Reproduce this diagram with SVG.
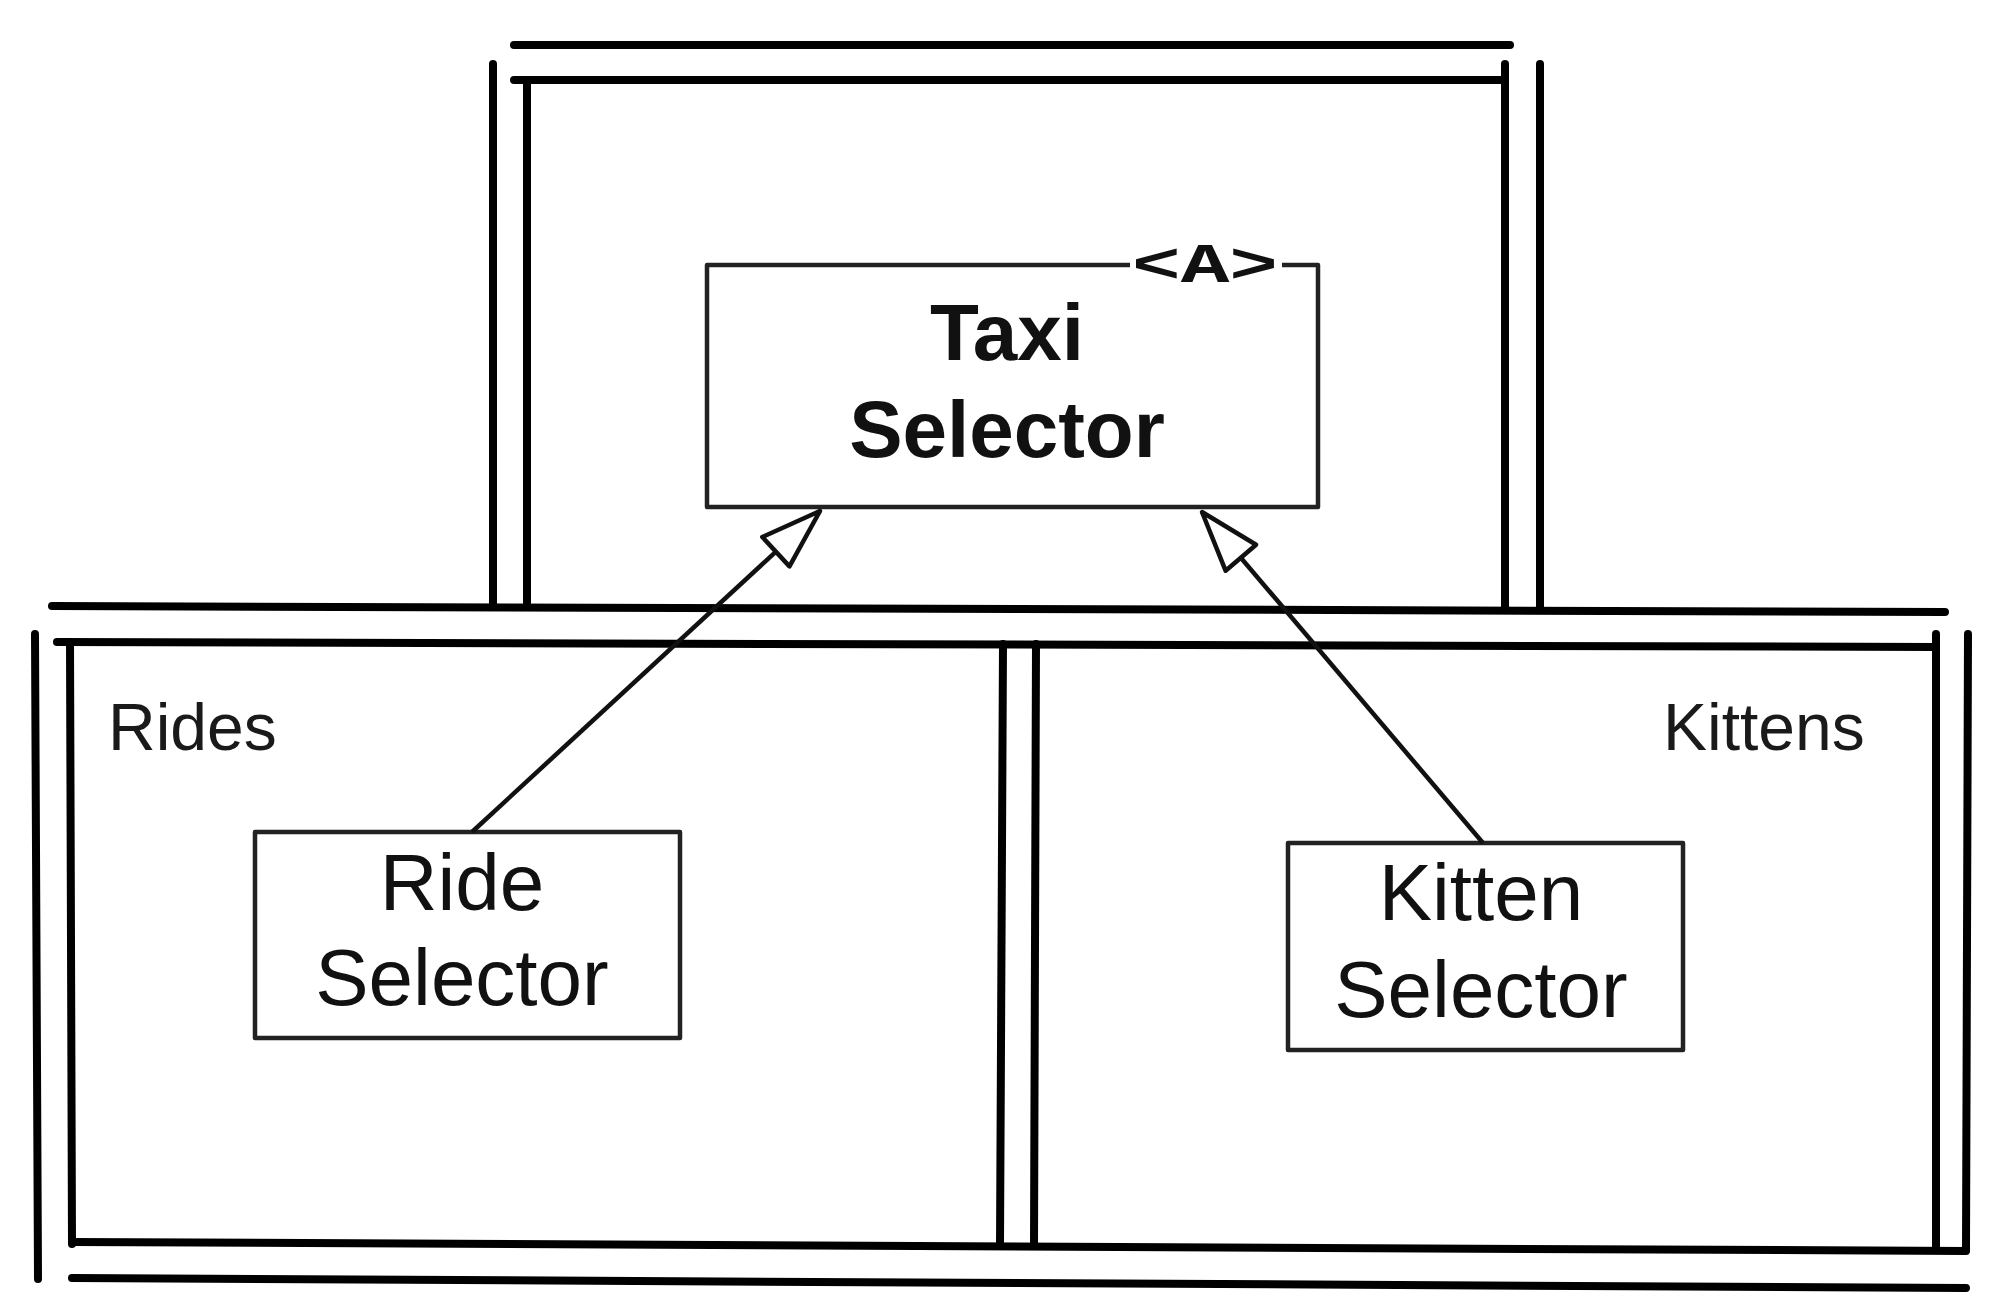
<svg xmlns="http://www.w3.org/2000/svg" width="2000" height="1313" viewBox="0 0 2000 1313">
<style>
.frame{stroke:#000;stroke-width:8;stroke-linecap:round;fill:none}
.box{stroke:#222;stroke-width:4.5;fill:#fff;stroke-linejoin:round}
.edge{stroke:#111;stroke-width:4.5;fill:none}
.lbl{font-family:"Liberation Sans",Arial,sans-serif;font-size:66px;fill:#1a1a1a}
.name{font-family:"Liberation Sans",Arial,sans-serif;font-size:80px;fill:#111;text-anchor:middle}
.bold{font-weight:bold}
.stereo{font-family:"Liberation Mono","Courier New",monospace;font-weight:bold;font-size:56px;fill:#111}
</style>
<defs>
<marker id="hollow" markerUnits="userSpaceOnUse" markerWidth="64" markerHeight="44" refX="60" refY="20" orient="auto" overflow="visible">
<path d="M0,0 L60,20 L0,40 Z" fill="#fff" stroke="#111" stroke-width="4.5" stroke-linejoin="round"/>
</marker>
</defs>
<rect width="2000" height="1313" fill="#fff"/>

<g id="package-top">
<line class="frame" x1="514" y1="45" x2="1510" y2="45"/>
<line class="frame" x1="514" y1="80" x2="1503" y2="80"/>
<line class="frame" x1="493" y1="64" x2="493" y2="604"/>
<line class="frame" x1="527" y1="80" x2="527" y2="604"/>
<line class="frame" x1="1505" y1="64" x2="1505" y2="607"/>
<line class="frame" x1="1540" y1="64" x2="1540" y2="609"/>
</g>

<g id="package-bottom">
<line class="frame" x1="52" y1="606" x2="1945" y2="612"/>
<line class="frame" x1="57" y1="642" x2="1936" y2="647"/>
<line class="frame" x1="35" y1="634" x2="38" y2="1279"/>
<line class="frame" x1="70" y1="642" x2="72" y2="1244"/>
<line class="frame" x1="1003" y1="644" x2="1000" y2="1245"/>
<line class="frame" x1="1036" y1="644" x2="1034" y2="1246"/>
<line class="frame" x1="1936" y1="634" x2="1936" y2="1250"/>
<line class="frame" x1="1968" y1="634" x2="1966" y2="1250"/>
<line class="frame" x1="72" y1="1242" x2="1966" y2="1251"/>
<line class="frame" x1="72" y1="1278" x2="1966" y2="1288"/>
</g>

<g id="rides-label">
<text class="lbl" x="108" y="750">Rides</text>
</g>
<g id="kittens-label">
<text class="lbl" x="1663" y="750">Kittens</text>
</g>

<g id="taxi-selector">
<path class="box" d="M1130,265 L707,265 L707,507 L1318,507 L1318,265 L1282,265" fill="#fff"/>
<text class="stereo" x="1132" y="282" textLength="146" lengthAdjust="spacingAndGlyphs">&lt;A&gt;</text>
<text class="name bold" x="1007" y="360">Taxi</text>
<text class="name bold" x="1007" y="457">Selector</text>
</g>

<g id="ride-selector">
<rect class="box" x="255" y="832" width="425" height="206"/>
<text class="name" x="462" y="910">Ride</text>
<text class="name" x="462" y="1005">Selector</text>
</g>

<g id="kitten-selector">
<rect class="box" x="1288" y="843" width="395" height="207"/>
<text class="name" x="1481" y="920">Kitten</text>
<text class="name" x="1481" y="1017">Selector</text>
</g>

<g id="connectors">
<line class="edge" x1="472" y1="832" x2="820" y2="511" marker-end="url(#hollow)"/>
<line class="edge" x1="1483" y1="843" x2="1202" y2="512" marker-end="url(#hollow)"/>
</g>
</svg>
